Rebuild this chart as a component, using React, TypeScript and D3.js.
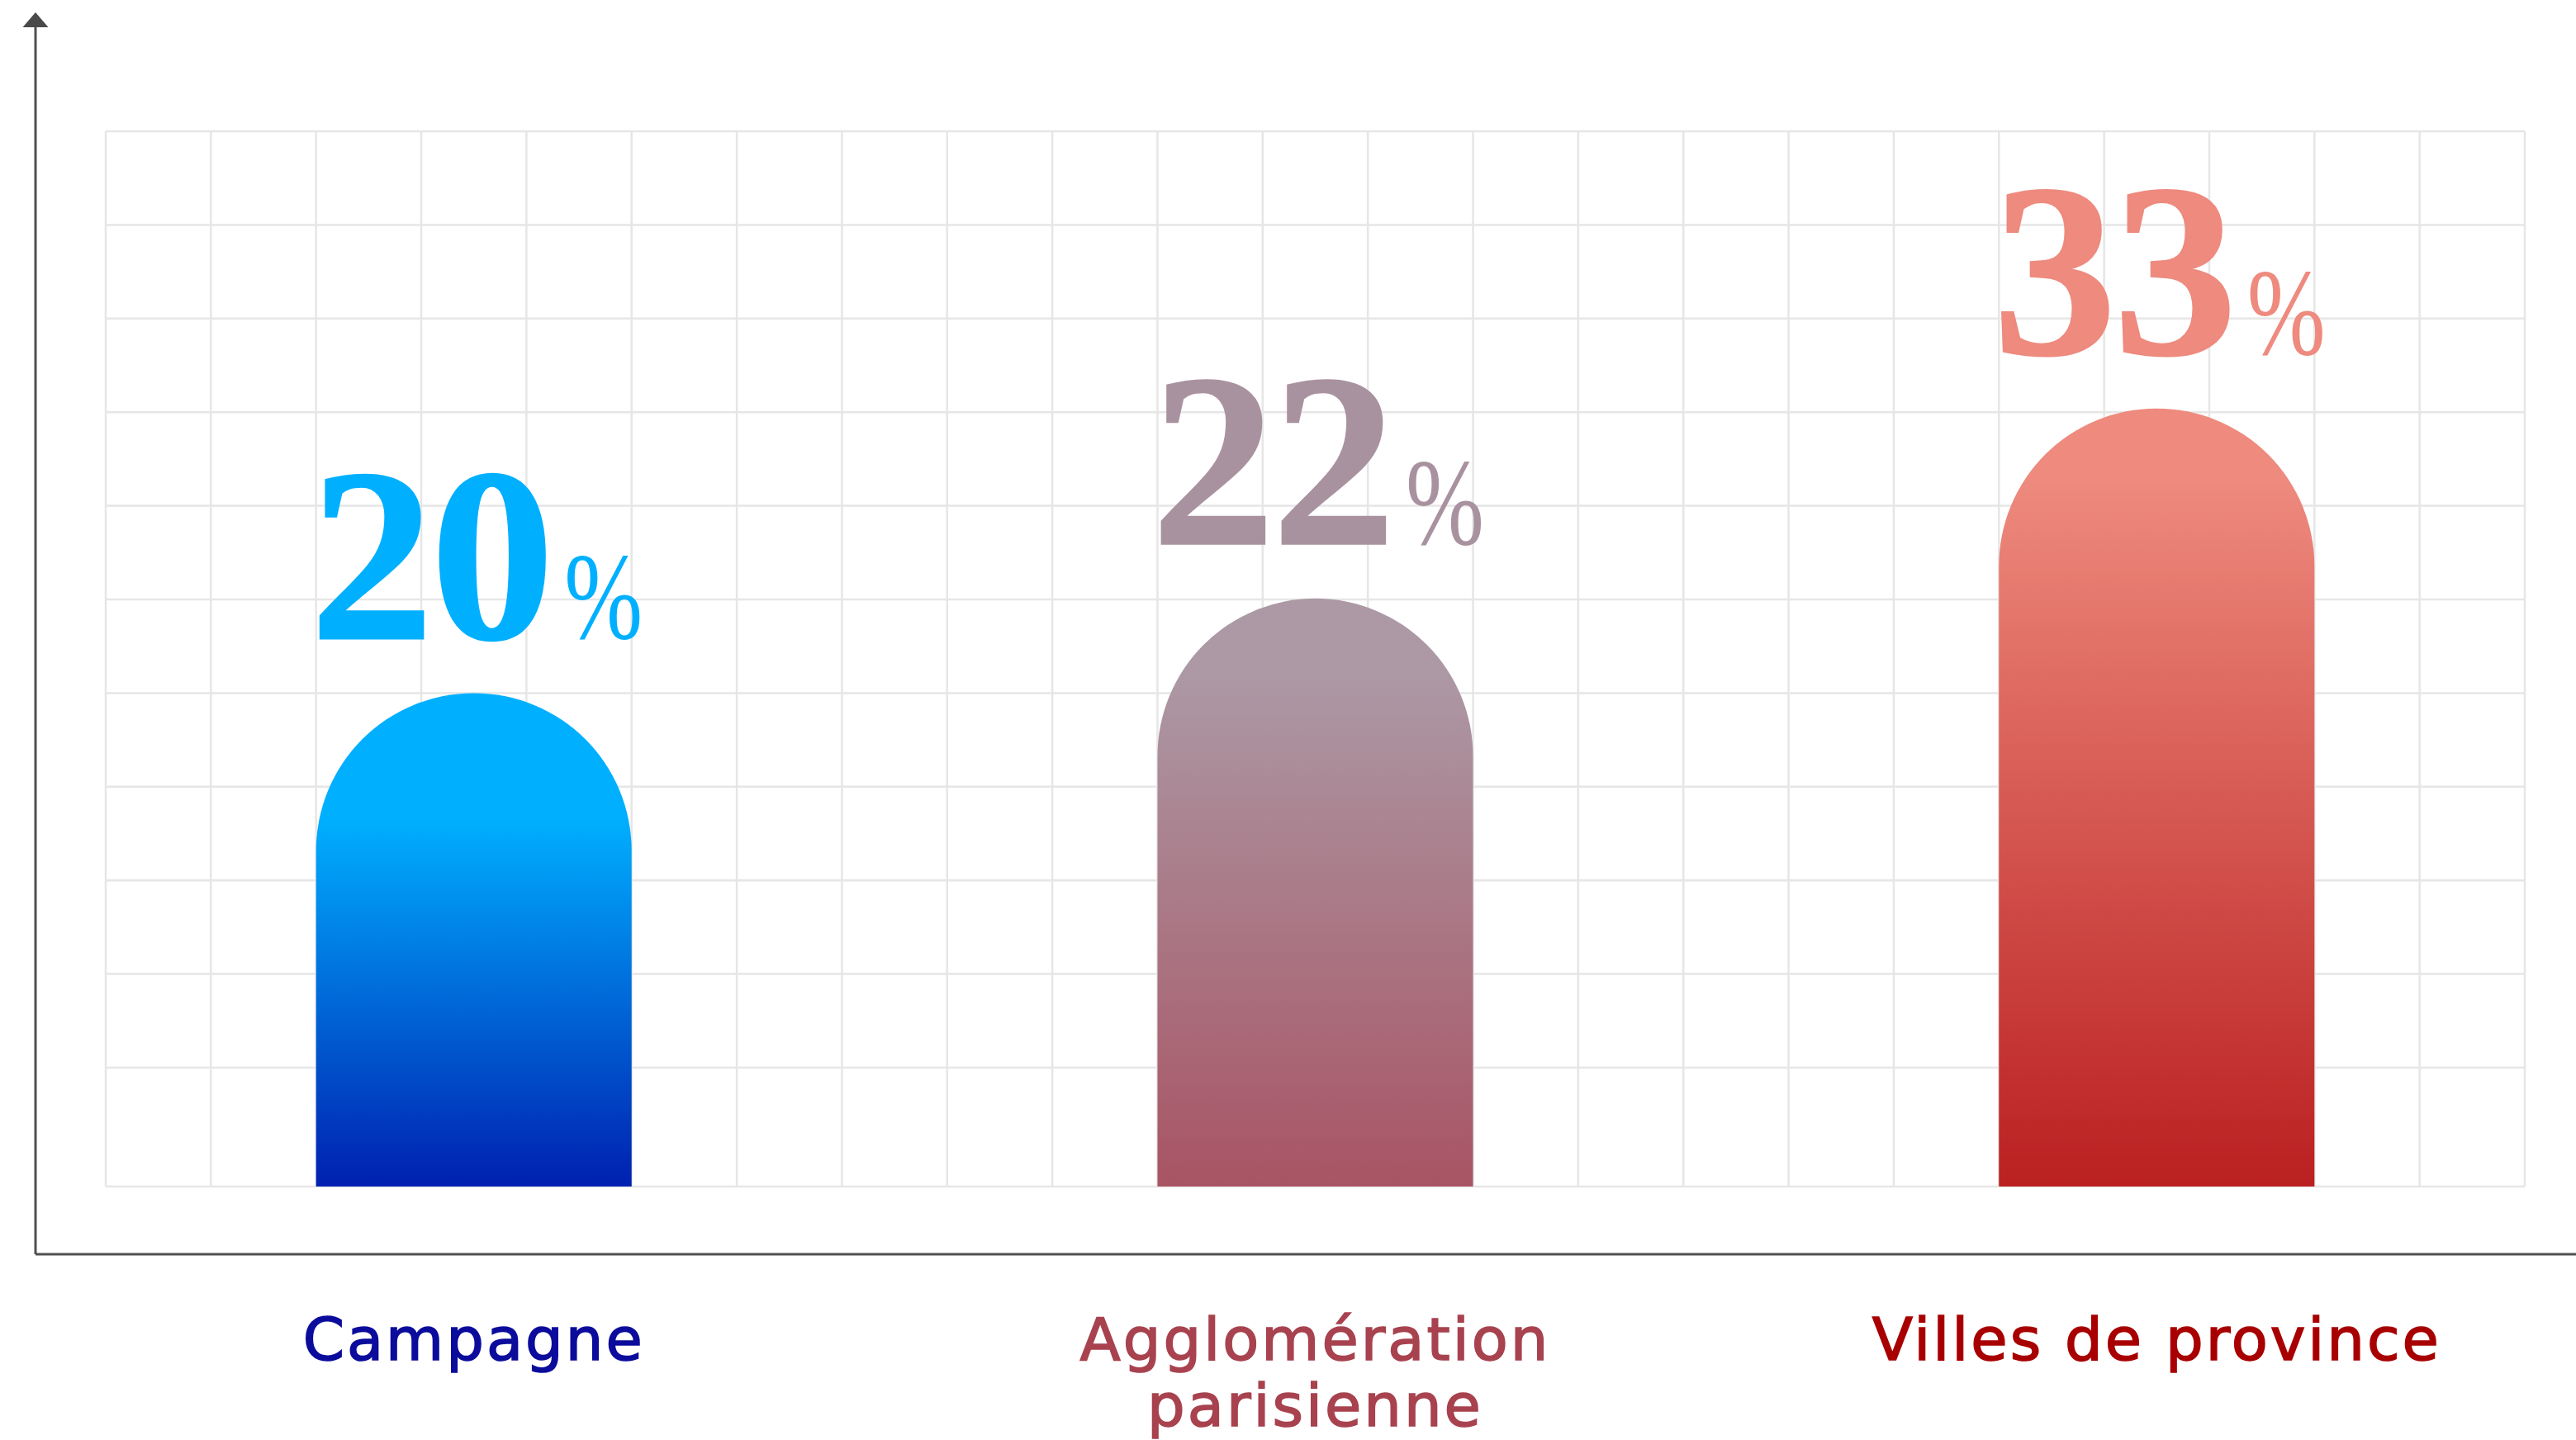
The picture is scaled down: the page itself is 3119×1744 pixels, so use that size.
import React from "react";
import * as d3 from "d3";

// ---- data ----
const categories = ["Campagne", "Agglomération parisienne", "Villes de province"];
const categoryLines = [["Campagne"], ["Agglomération", "parisienne"], ["Villes de province"]];
const values = [20, 22, 33]; // printed percentages
// bar heights as drawn, in grid-row units above the baseline
const barLevels = [5.27, 6.28, 8.31];
const valueColors = ["#00B0FF", "#A9929F", "#EE8A7E"];
const labelColors = ["#0B0B9C", "#A8424F", "#A80000"];
const gradTop = ["#00B0FF", "#AC99A5", "#EE8A7E"];
const gradBottom = ["#0020B0", "#A85464", "#BA2020"];
const gradSolidUntil = [0.25, 0.12, 0.09];

const W = 3119;
const H = 1744;
const grid = { left: 128, right: 3057, top: 159, bottom: 1437 };
const nCols = 23;
const rowH = 113.4;
const yMax = (grid.bottom - grid.top) / rowH;

export default function App() {
  const x = d3
    .scaleBand<string>()
    .domain(categories)
    .range([grid.left, grid.right])
    .paddingInner(0.625)
    .paddingOuter(0.25);
  const y = d3.scaleLinear().domain([0, yMax]).range([grid.bottom, grid.top]);
  const colW = (grid.right - grid.left) / nCols;

  const hLines = [0, ...d3.range(0, 11).map((k) => yMax - k)];
  const vLines = d3.range(0, nCols + 1).map((i) => grid.left + i * colW);

  const axisX = 43;
  const axisY = 1519;

  const digitSize = 300;
  const pctSize = 150;
  const pctScaleX = 0.76;
  const pctInk = 0.78 * pctSize * pctScaleX;
  const gap = 8;

  return (
    <svg
      width={W}
      height={H}
      viewBox={`0 0 ${W} ${H}`}
      style={{ position: "absolute", left: 0, top: 0, display: "block", background: "#fff" }}
    >
      <defs>
        {categories.map((c, i) => (
          <linearGradient key={c} id={`g${i}`} x1="0" y1="0" x2="0" y2="1">
            <stop offset="0" stopColor={gradTop[i]} />
            <stop offset={gradSolidUntil[i]} stopColor={gradTop[i]} />
            <stop offset="1" stopColor={gradBottom[i]} />
          </linearGradient>
        ))}
      </defs>

      {/* grid */}
      <g stroke="#E6E6E6" strokeWidth={2.5}>
        {hLines.map((v, i) => (
          <line key={`h${i}`} x1={grid.left} x2={grid.right} y1={y(v)} y2={y(v)} />
        ))}
        {vLines.map((vx, i) => (
          <line key={`v${i}`} x1={vx} x2={vx} y1={grid.top} y2={grid.bottom} />
        ))}
      </g>

      {/* bars */}
      {categories.map((c, i) => {
        const x0 = x(c)!;
        const bw = x.bandwidth();
        const x1 = x0 + bw;
        const r = bw / 2;
        const yt = y(barLevels[i]);
        const yb = y(0);
        const p = d3.path();
        p.moveTo(x0, yb);
        p.lineTo(x0, yt + r);
        p.arc(x0 + r, yt + r, r, Math.PI, 0);
        p.lineTo(x1, yb);
        p.closePath();
        return <path key={c} d={p.toString()} fill={`url(#g${i})`} />;
      })}

      {/* value labels */}
      {categories.map((c, i) => {
        const cx = x(c)! + x.bandwidth() / 2;
        const txt = String(values[i]);
        const digitsW = txt.length * 0.5 * digitSize;
        const total = digitsW + gap + pctInk;
        const sx = cx - total / 2;
        const base = y(barLevels[i]) - 66;
        return (
          <g key={c} fill={valueColors[i]}>
            <text
              x={sx}
              y={base}
              fontFamily="'Liberation Serif', 'DejaVu Serif', serif"
              fontWeight={700}
              fontSize={digitSize}
              letterSpacing={-4}
              stroke={valueColors[i]}
              strokeWidth={2}
            >
              {txt}
            </text>
            <text
              transform={`translate(${sx + digitsW + gap},${base}) scale(${pctScaleX},1)`}
              fontFamily="'Liberation Serif', 'DejaVu Serif', serif"
              fontWeight={400}
              fontSize={pctSize}
            >
              %
            </text>
          </g>
        );
      })}

      {/* axes */}
      <g stroke="#505050" strokeWidth={3} fill="none">
        <line x1={axisX} x2={axisX} y1={30} y2={axisY} />
        <line x1={axisX} x2={W} y1={axisY} y2={axisY} />
      </g>
      <path d={`M${axisX},15 L${axisX + 15.5},33 L${axisX - 15.5},33 Z`} fill="#4A4A4A" />

      {/* category labels */}
      {categories.map((c, i) => {
        const cx = x(c)! + x.bandwidth() / 2;
        return (
          <text
            key={c}
            x={cx}
            y={1647}
            textAnchor="middle"
            fill={labelColors[i]}
            stroke={labelColors[i]}
            strokeWidth={1.6}
            fontFamily="'DejaVu Sans', sans-serif"
            fontSize={72}
            letterSpacing={3}
          >
            {categoryLines[i].map((line, j) => (
              <tspan key={j} x={cx} dy={j === 0 ? 0 : 80}>
                {line}
              </tspan>
            ))}
          </text>
        );
      })}
    </svg>
  );
}
